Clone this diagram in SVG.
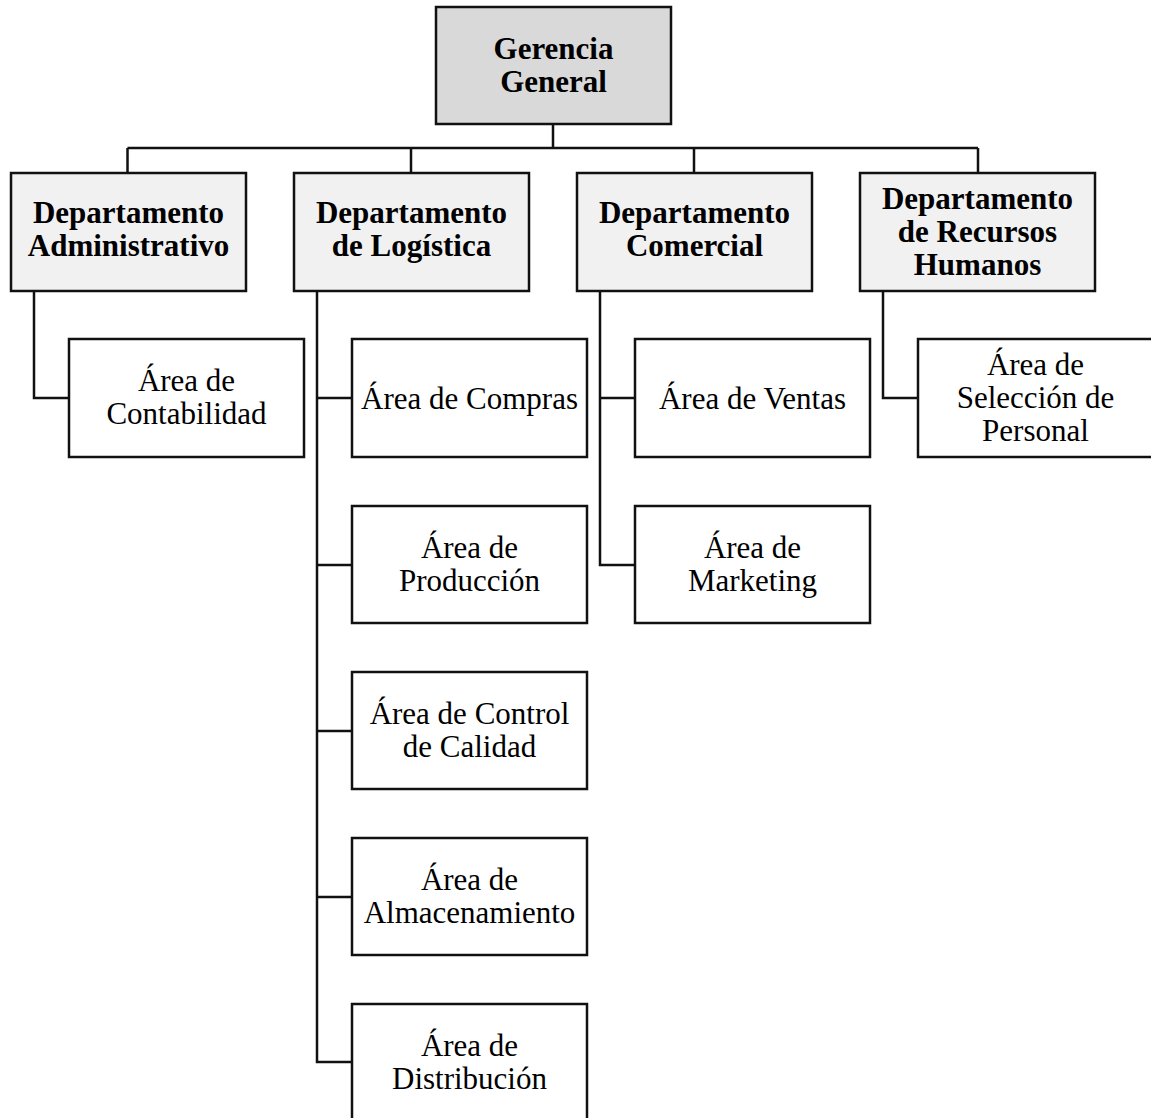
<svg xmlns="http://www.w3.org/2000/svg" width="1151" height="1118" viewBox="0 0 1151 1118" font-family="Liberation Serif, Times New Roman, serif">
<style>
.box{stroke:#111;stroke-width:2.5;}
.top{fill:#d9d9d9;}
.dept{fill:#f1f1f1;}
.area{fill:#ffffff;}
.b{font-weight:bold;font-size:31px;fill:#000;text-anchor:middle;}
.r{font-size:31px;fill:#000;text-anchor:middle;}
.ln{fill:none;stroke:#111;stroke-width:2.5;}
</style>
<rect width="1151" height="1118" fill="#fff"/>
<g id="connectors">
<path class="ln" d="M553,124V148M127.5,148H978M127.5,148V173M411,148V173M694,148V173M978,148V173"/>
<path class="ln" d="M34,291V398H69"/>
<path class="ln" d="M317,291V1062H352M317,398H352M317,565H352M317,731H352M317,897H352"/>
<path class="ln" d="M600,291V565H635M600,398H635"/>
<path class="ln" d="M883,291V398H918"/>
</g>
<g id="gerencia">
<rect class="box top" x="436" y="7" width="235" height="117"/>
<text class="b" x="553.5" y="59" font-family="Liberation Serif">Gerencia</text>
<text class="b" x="553.5" y="92" font-family="Liberation Serif">General</text>
</g>
<g id="dep-admin" font-family="Liberation Serif">
<rect class="box dept" x="11" y="173" width="235" height="118"/>
<text class="b" x="128.5" y="223">Departamento</text>
<text class="b" x="128.5" y="256">Administrativo</text>
</g>
<g id="dep-logistica" font-family="Liberation Serif">
<rect class="box dept" x="294" y="173" width="235" height="118"/>
<text class="b" x="411.5" y="223">Departamento</text>
<text class="b" x="411.5" y="256">de Logística</text>
</g>
<g id="dep-comercial" font-family="Liberation Serif">
<rect class="box dept" x="577" y="173" width="235" height="118"/>
<text class="b" x="694.5" y="223">Departamento</text>
<text class="b" x="694.5" y="256">Comercial</text>
</g>
<g id="dep-rrhh" font-family="Liberation Serif">
<rect class="box dept" x="860" y="173" width="235" height="118"/>
<text class="b" x="977.5" y="209">Departamento</text>
<text class="b" x="977.5" y="242">de Recursos</text>
<text class="b" x="977.5" y="275">Humanos</text>
</g>
<g id="area-contabilidad" font-family="Liberation Serif">
<rect class="box area" x="69" y="339" width="235" height="118"/>
<text class="r" x="186.5" y="391">Área de</text>
<text class="r" x="186.5" y="424">Contabilidad</text>
</g>
<g id="area-compras" font-family="Liberation Serif">
<rect class="box area" x="352" y="339" width="235" height="118"/>
<text class="r" x="469.5" y="409">Área de Compras</text>
</g>
<g id="area-produccion" font-family="Liberation Serif">
<rect class="box area" x="352" y="506" width="235" height="117"/>
<text class="r" x="469.5" y="558">Área de</text>
<text class="r" x="469.5" y="591">Producción</text>
</g>
<g id="area-calidad" font-family="Liberation Serif">
<rect class="box area" x="352" y="672" width="235" height="117"/>
<text class="r" x="469.5" y="724">Área de Control</text>
<text class="r" x="469.5" y="757">de Calidad</text>
</g>
<g id="area-almacenamiento" font-family="Liberation Serif">
<rect class="box area" x="352" y="838" width="235" height="117"/>
<text class="r" x="469.5" y="890">Área de</text>
<text class="r" x="469.5" y="923">Almacenamiento</text>
</g>
<g id="area-distribucion" font-family="Liberation Serif">
<rect class="box area" x="352" y="1004" width="235" height="117"/>
<text class="r" x="469.5" y="1056">Área de</text>
<text class="r" x="469.5" y="1089">Distribución</text>
</g>
<g id="area-ventas" font-family="Liberation Serif">
<rect class="box area" x="635" y="339" width="235" height="118"/>
<text class="r" x="752.5" y="409">Área de Ventas</text>
</g>
<g id="area-marketing" font-family="Liberation Serif">
<rect class="box area" x="635" y="506" width="235" height="117"/>
<text class="r" x="752.5" y="558">Área de</text>
<text class="r" x="752.5" y="591">Marketing</text>
</g>
<g id="area-seleccion" font-family="Liberation Serif">
<rect class="box area" x="918" y="339" width="235" height="118"/>
<text class="r" x="1035.5" y="375">Área de</text>
<text class="r" x="1035.5" y="408">Selección de</text>
<text class="r" x="1035.5" y="441">Personal</text>
</g>
</svg>
